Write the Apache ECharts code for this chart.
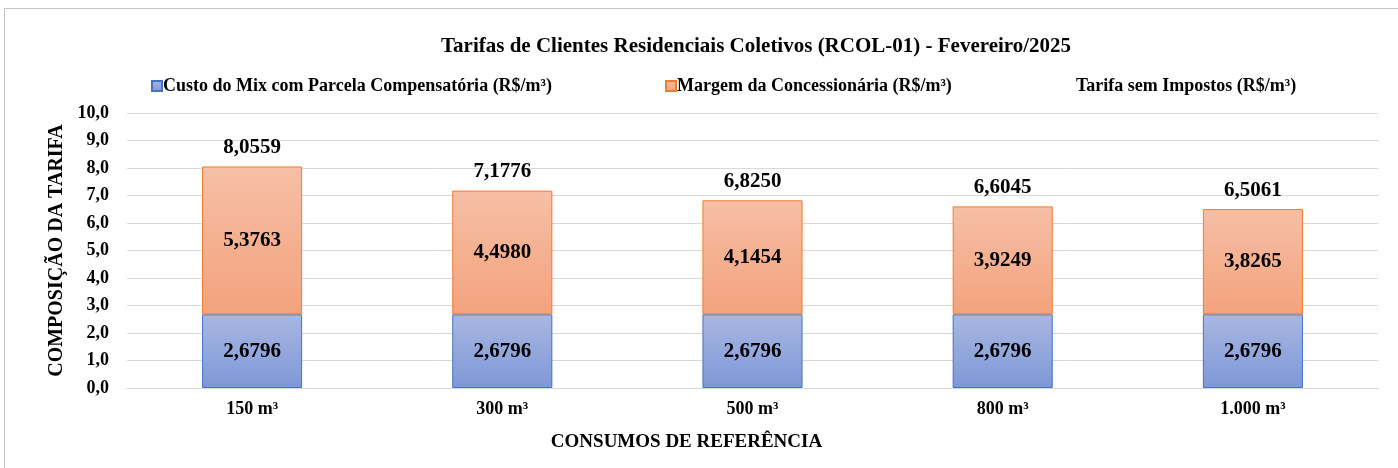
<!DOCTYPE html>
<html>
<head>
<meta charset="utf-8">
<script src="https://cdn.jsdelivr.net/npm/echarts@6/dist/echarts.min.js"></script>
<style>
  html, body { margin: 0; padding: 0; background: #fff; }
  #main { width: 1398px; height: 468px; }
</style>
</head>
<body>
<div id="main"></div>
<script>
const categories = ['150 m³', '300 m³', '500 m³', '800 m³', '1.000 m³'];
const custoMix = [2.6796, 2.6796, 2.6796, 2.6796, 2.6796];
const margem = [5.3763, 4.4980, 4.1454, 3.9249, 3.8265];
const tarifa = [8.0559, 7.1776, 6.8250, 6.6045, 6.5061];

const fmt = v => v.toFixed(4).replace('.', ',');
const serif = '"Liberation Serif", "Times New Roman", serif';

const chart = echarts.init(document.getElementById('main'));
const legendText = { fontFamily: serif, fontWeight: 'bold', fontSize: 18, color: '#000' };
const dataLabel = { fontFamily: serif, fontWeight: 'bold', fontSize: 21, color: '#000' };

const option = {
  animation: false,
  textStyle: { fontFamily: serif },
  title: {
    text: 'Tarifas de Clientes Residenciais Coletivos (RCOL-01) - Fevereiro/2025',
    left: 436,
    top: 31,
    textStyle: { fontFamily: serif, fontWeight: 'bold', fontSize: 21, color: '#000' }
  },
  graphic: [{
    type: 'rect',
    shape: { x: 4.5, y: 8.5, width: 1500, height: 500 },
    style: { fill: 'none', stroke: '#c6c6c6', lineWidth: 1 },
    silent: true
  }],
  legend: [
    {
      data: [{ name: 'Custo do Mix com Parcela Compensatória (R$/m³)', icon: 'rect' }],
      left: 146, top: 72, itemWidth: 10, itemHeight: 10, itemGap: 2,
      textStyle: Object.assign({ padding: [0, 0, 0, -4] }, legendText)
    },
    {
      data: [{ name: 'Margem da Concessionária (R$/m³)', icon: 'rect' }],
      left: 660, top: 72, itemWidth: 10, itemHeight: 10, itemGap: 2,
      textStyle: Object.assign({ padding: [0, 0, 0, -4] }, legendText)
    },
    {
      data: [{ name: 'Tarifa sem Impostos (R$/m³)', icon: 'none' }],
      left: 1056, top: 72, itemWidth: 10, itemHeight: 10,
      textStyle: legendText
    }
  ],
  grid: { left: 127, right: 20, top: 113, bottom: 80 },
  xAxis: {
    type: 'category',
    data: categories,
    name: 'CONSUMOS DE REFERÊNCIA',
    nameLocation: 'middle',
    nameGap: 45,
    nameTextStyle: {
      fontFamily: serif, fontWeight: 'bold', fontSize: 19, color: '#000',
      padding: [0, 132, 0, 0]
    },
    axisLine: { show: true, lineStyle: { color: '#d9d9d9' } },
    axisTick: { show: false },
    axisLabel: { fontFamily: serif, fontWeight: 'bold', fontSize: 18, color: '#000', margin: 12 }
  },
  yAxis: {
    type: 'value',
    min: 0,
    max: 10,
    interval: 1,
    name: 'COMPOSIÇÃO DA TARIFA',
    nameLocation: 'middle',
    nameGap: 58,
    nameTextStyle: { fontFamily: serif, fontWeight: 'bold', fontSize: 20, color: '#000' },
    axisLine: { show: false },
    axisTick: { show: false },
    axisLabel: {
      fontFamily: serif, fontWeight: 'bold', fontSize: 18, color: '#000', margin: 18,
      formatter: v => v.toFixed(1).replace('.', ',')
    },
    splitLine: { lineStyle: { color: '#d9d9d9' } }
  },
  series: [
    {
      name: 'Custo do Mix com Parcela Compensatória (R$/m³)',
      type: 'bar',
      stack: 'total',
      data: custoMix,
      barWidth: '40%',
      itemStyle: {
        color: new echarts.graphic.LinearGradient(0, 0, 0, 1, [
          { offset: 0, color: '#a9b7e2' },
          { offset: 1, color: '#7e98d6' }
        ]),
        borderColor: '#4472c4',
        borderWidth: 1
      },
      label: Object.assign({ show: true, position: 'inside', formatter: p => fmt(p.value) }, dataLabel)
    },
    {
      name: 'Margem da Concessionária (R$/m³)',
      type: 'bar',
      stack: 'total',
      data: margem,
      barWidth: '40%',
      itemStyle: {
        color: new echarts.graphic.LinearGradient(0, 0, 0, 1, [
          { offset: 0, color: '#f6bfa6' },
          { offset: 1, color: '#f3a27c' }
        ]),
        borderColor: '#ed7d31',
        borderWidth: 1
      },
      label: Object.assign({ show: true, position: 'inside', formatter: p => fmt(p.value) }, dataLabel)
    },
    {
      name: 'Tarifa sem Impostos (R$/m³)',
      type: 'line',
      data: tarifa,
      symbol: 'circle',
      symbolSize: 2,
      lineStyle: { color: 'transparent', width: 0 },
      itemStyle: { color: 'transparent', borderColor: 'transparent' },
      label: Object.assign({ show: true, position: 'top', distance: 7, formatter: p => fmt(p.value) }, dataLabel)
    }
  ]
};

chart.setOption(option);
</script>
</body>
</html>
